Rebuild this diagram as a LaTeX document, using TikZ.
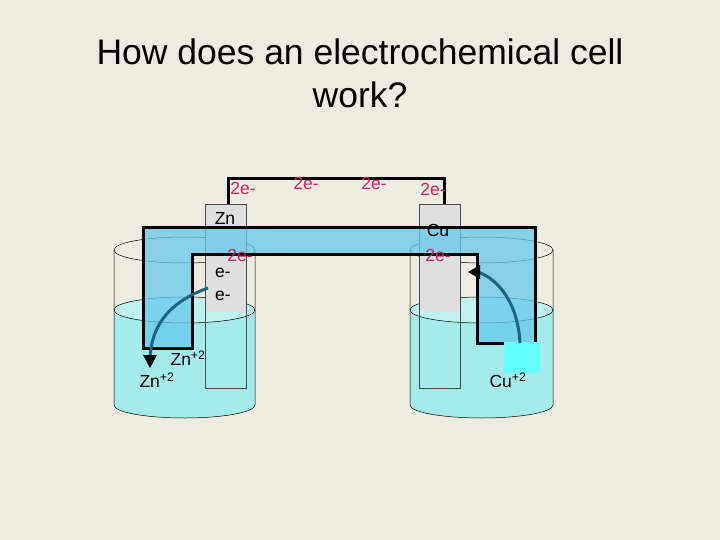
\documentclass[tikz,border=0pt]{standalone}
\usepackage{fontspec}
\setmainfont{Liberation Sans}
\begin{document}
\begin{tikzpicture}[x=1pt,y=-1pt,
 lbl/.style={font=\fontsize{17.5}{19}\selectfont,inner sep=0},
 ee/.style={lbl,text={rgb,255:red,204;green,34;blue,102}},
 glass/.style={draw=black,line width=0.5pt},
 cur/.style={draw={rgb,255:red,30;green,100;blue,130},line width=3pt}]
\definecolor{bg}{RGB}{238,235,224}
\definecolor{liq}{RGB}{165,235,235}
\definecolor{brd}{RGB}{100,200,235}
\definecolor{cyansq}{RGB}{100,255,255}
\useasboundingbox (0,0) rectangle (720,540);
\fill[bg] (0,0) rectangle (720,540);
\node[font=\fontsize{35.5}{43}\selectfont,align=center] (title) at (360,73) {How does an electrochemical cell\\work?};
% beakers
\foreach \xa/\xb in {114/255,410/553}{
 \fill[liq] (\xa,310) -- (\xa,405) arc[start angle=180,end angle=0,x radius={(\xb-\xa)/2},y radius=13] -- (\xb,310) -- cycle;
 \fill[liq!70!white] ({(\xa+\xb)/2},310) ellipse[x radius={(\xb-\xa)/2},y radius=13];
 \draw[glass] ({(\xa+\xb)/2},310) ellipse[x radius={(\xb-\xa)/2},y radius=13];
 \draw[glass] ({(\xa+\xb)/2},250) ellipse[x radius={(\xb-\xa)/2},y radius=13];
 \draw[glass] (\xa,250) -- (\xa,405) arc[start angle=180,end angle=0,x radius={(\xb-\xa)/2},y radius=13] -- (\xb,250);
}
% electrodes
\foreach \xa in {205,419}{
 \fill[gray!25] (\xa,204) rectangle (\xa+41,312);
 \draw[draw=gray!60!black,line width=0.4pt] (\xa,204) rectangle (\xa+41,388);
}
% wire
\coordinate (wl) at (228,204); \coordinate (wr) at (444,204);
\draw[line width=3pt] (wl) -- (228,179) -- (444,179) -- (wr);
% salt bridge
\draw[line width=3pt,fill=brd,fill opacity=0.75] (143,228) -- (535,228) -- (535,343) -- (477,343) -- (477,254) -- (192,254) -- (192,348) -- (143,348) -- cycle;
\fill[cyansq] (504,342) rectangle (540,373);
% arrows
\coordinate (a1) at (208,288); \coordinate (a2) at (150,358);
\draw[cur] (a1) .. controls (175,300) and (152,320) .. (a2);
\fill (143,355) -- (157,355) -- (150,368) -- cycle;
\coordinate (b1) at (520,343); \coordinate (b2) at (478,272);
\draw[cur] (b1) .. controls (518,305) and (500,280) .. (b2);
\fill (468,272) -- (480,265) -- (480,279) -- cycle;
% labels
\node[ee] (e1) at (243,188) {2e-};
\node[ee] (e2) at (306,183) {2e-};
\node[ee] (e3) at (374,183) {2e-};
\node[ee] (e4) at (433,189) {2e-};
\node[lbl] (zn) at (225,218) {Zn};
\node[lbl] (cu) at (438,230) {Cu};
\node[ee] (e5) at (240,255) {2e-};
\node[ee] (e6) at (438,255) {2e-};
\node[lbl] (e7) at (223,273) {e-};
\node[lbl] (e8) at (223,296) {e-};
\node[lbl] (z1) at (188,358) {Zn\textsuperscript{+2}};
\node[lbl] (z2) at (157,380) {Zn\textsuperscript{+2}};
\node[lbl] (c1) at (508,380) {Cu\textsuperscript{+2}};
\end{tikzpicture}
\end{document}
